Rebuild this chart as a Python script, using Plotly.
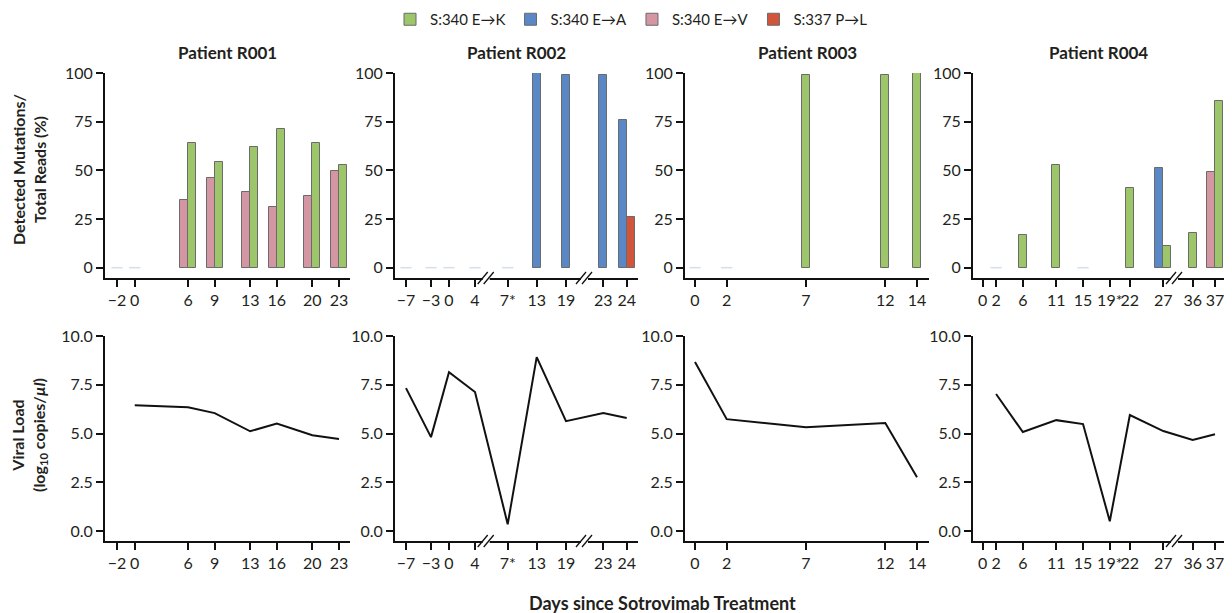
import numpy as np
import plotly.graph_objects as go

W, H = 1232, 613          # window size
OFF = 8                   # page body margin offset
FW, FH = W - OFF, H - OFF  # figure size

# ---------------- data ----------------
SERIES = ["EK", "EA", "EV", "PL"]
SERIES_NAME = {"EK": "S:340 E\u2192K", "EA": "S:340 E\u2192A",
               "EV": "S:340 E\u2192V", "PL": "S:337 P\u2192L"}

# Patient R001
r001_days = [-2, 0, 6, 9, 13, 16, 20, 23]
r001_labels = ["\u22122", "0", "6", "9", "13", "16", "20", "23"]
r001_EK = [None, None, 64, 54.5, 62, 71, 64, 52.5]
r001_EV = [None, None, 35, 46, 39, 31, 37, 49.5]
r001_nd = [-2, 0]
r001_load_days = [0, 6, 9, 13, 16, 20, 23]
r001_load = [6.45, 6.35, 6.05, 5.12, 5.52, 4.92, 4.72]

# Patient R002
r002_days = [-7, -3, 0, 4, 7, 13, 19, 23, 24]
r002_labels = ["\u22127", "\u22123", "0", "4", "7*", "13", "19", "23", "24"]
r002_EA = [None, None, None, None, None, 100, 99, 99, 76]
r002_PL = [None, None, None, None, None, None, None, None, 26]
r002_nd = [-7, -3, 0, 4, 7]
r002_load_days = [-7, -3, 0, 4, 7, 13, 19, 23, 24]
r002_load = [7.33, 4.82, 8.15, 7.13, 0.36, 8.92, 5.64, 6.05, 5.8]

# Patient R003
r003_days = [0, 2, 7, 12, 14]
r003_labels = ["0", "2", "7", "12", "14"]
r003_EK = [None, None, 99, 99, 100]
r003_nd = [0, 2]
r003_load_days = [0, 2, 7, 12, 14]
r003_load = [8.67, 5.74, 5.33, 5.54, 2.77]

# Patient R004
r004_days = [0, 2, 6, 11, 15, 19, 22, 27, 36, 37]
r004_labels = ["0", "2", "6", "11", "15", "19*", "22", "27", "36", "37"]
r004_EK = [None, None, 17, 53, None, None, 41, 11, 18, 85.5]
r004_EA = [None, None, None, None, None, None, None, 51, None, None]
r004_EV = [None, None, None, None, None, None, None, None, None, 49]
r004_nd = [2, 15]
r004_load_days = [2, 6, 11, 15, 19, 22, 27, 36, 37]
r004_load = [7.03, 5.08, 5.69, 5.49, 0.51, 5.95, 5.13, 4.67, 4.97]

# ---------------- layout / scales ----------------
COLORS = {"EK": "#9dc66b", "EA": "#5a87c6", "EV": "#d596a3", "PL": "#d0553a"}
FONT = "Lato, 'Open Sans', sans-serif"
TXT = "#231f20"

panels = [
    dict(title="Patient R001", px=(105, 350), days=r001_days, labels=r001_labels,
         bars={"EK": r001_EK, "EV": r001_EV}, nd=r001_nd,
         ld=r001_load_days, lv=r001_load,
         scale=([-2, 23], [12, 234]), breaks=[]),
    dict(title="Patient R002", px=(395, 638), days=r002_days, labels=r002_labels,
         bars={"EA": r002_EA, "PL": r002_PL}, nd=r002_nd,
         ld=r002_load_days, lv=r002_load,
         scale=(r002_days, [11, 36, 54, 80, 112.7, 141.7, 171, 208.3, 231.7]),
         breaks=[91.7, 190]),
    dict(title="Patient R003", px=(685, 929), days=r003_days, labels=r003_labels,
         bars={"EK": r003_EK}, nd=r003_nd,
         ld=r003_load_days, lv=r003_load,
         scale=([0, 14], [10, 232]), breaks=[]),
    dict(title="Patient R004", px=(973, 1224), days=r004_days, labels=r004_labels,
         bars={"EK": r004_EK, "EA": r004_EA, "EV": r004_EV}, nd=r004_nd,
         ld=r004_load_days, lv=r004_load,
         scale=([0, 27, 36, 37], [9.7, 190.3, 219.7, 242]), breaks=[202]),
]

TOP_PX = (73, 278)     # top row: y pixel top/bottom (window coords)
BOT_PX = (336, 541)
BAR_W = 8


def px2x(p):
    return (p - OFF) / FW


def px2y(p):
    return 1 - (p - OFF) / FH


def ydom(px):
    return [px2y(px[1]), px2y(px[0])]


fig = go.Figure()

# legend entries (in order)
for s in SERIES:
    fig.add_trace(go.Bar(x=[None], y=[None], name=SERIES_NAME[s],
                         marker=dict(color=COLORS[s], line=dict(color="#6b6b6b", width=1)),
                         xaxis="x", yaxis="y", showlegend=True))

axis_common = dict(showline=True, linecolor="#111", linewidth=2, ticks="outside",
                   tickcolor="#111", tickwidth=2, ticklen=7, showgrid=False, zeroline=False,
                   automargin=False, tickangle=0,
                   tickfont=dict(family=FONT, size=16, color=TXT))

layout = {}
shapes = []
annotations = []

for i, p in enumerate(panels):
    wpx = p["px"][1] - p["px"][0]
    sd, sp = p["scale"]

    def scale(d, sd=sd, sp=sp):
        return float(np.interp(d, sd, sp))

    xdom = [px2x(p["px"][0]), px2x(p["px"][1])]
    tickvals = [scale(d) for d in p["days"]]
    xt, xb = i + 1, i + 5
    xa_top = "x" if xt == 1 else f"x{xt}"
    ya_top = "y" if xt == 1 else f"y{xt}"
    xa_bot, ya_bot = f"x{xb}", f"y{xb}"

    for idx, (xn, yn, dom) in enumerate([(xt, xt, TOP_PX), (xb, xb, BOT_PX)]):
        kx = "xaxis" if xn == 1 else f"xaxis{xn}"
        ky = "yaxis" if yn == 1 else f"yaxis{yn}"
        layout[kx] = dict(axis_common, domain=xdom, range=[0, wpx],
                          anchor=("y" if yn == 1 else f"y{yn}"),
                          tickmode="array", tickvals=tickvals, ticktext=p["labels"])
        if idx == 0:
            layout[ky] = dict(axis_common, domain=ydom(dom), range=[-5.3, 100],
                              anchor=("x" if xn == 1 else f"x{xn}"),
                              tickmode="array", tickvals=[0, 25, 50, 75, 100])
        else:
            layout[ky] = dict(axis_common, domain=ydom(dom), range=[-0.5, 10],
                              anchor=f"x{xn}", tickmode="array",
                              tickvals=[0, 2.5, 5, 7.5, 10],
                              ticktext=["0.0", "2.5", "5.0", "7.5", "10.0"])

    # bars
    present = {}
    for s, vals in p["bars"].items():
        for d, v in zip(p["days"], vals):
            if v is not None:
                present.setdefault(d, []).append(s)
    for s in SERIES:
        if s not in p["bars"]:
            continue
        xs, ys, offs = [], [], []
        for d, v in zip(p["days"], p["bars"][s]):
            if v is None:
                continue
            group = sorted(present[d], key=lambda t: ["EA", "EV", "EK", "PL"].index(t))
            n = len(group)
            k = group.index(s)
            xs.append(scale(d))
            ys.append(v)
            offs.append(-n * BAR_W / 2 + k * BAR_W)
        fig.add_trace(go.Bar(x=xs, y=ys, width=BAR_W, offset=offs,
                             marker=dict(color=COLORS[s], line=dict(color="#6b6b6b", width=1)),
                             xaxis=xa_top, yaxis=ya_top, showlegend=False,
                             name=SERIES_NAME[s]))
    # not-detected dashes
    fig.add_trace(go.Scatter(x=[scale(d) for d in p["nd"]], y=[0] * len(p["nd"]),
                             mode="markers",
                             marker=dict(symbol="line-ew", size=8,
                                         line=dict(color="#d4dfeb", width=1.5)),
                             xaxis=xa_top, yaxis=ya_top, showlegend=False,
                             hoverinfo="skip"))
    # viral load
    fig.add_trace(go.Scatter(x=[scale(d) for d in p["ld"]], y=p["lv"], mode="lines",
                             line=dict(color="#111", width=2),
                             xaxis=xa_bot, yaxis=ya_bot, showlegend=False))

    # panel title
    annotations.append(dict(text=f"<b>{p['title']}</b>", xref="paper", yref="paper",
                            x=px2x((p["px"][0] + p["px"][1]) / 2), y=px2y(52),
                            xanchor="center", yanchor="middle",
                            showarrow=False, font=dict(family=FONT, size=17, color=TXT)))

    # axis breaks
    for bpx in p["breaks"]:
        xc = p["px"][0] + bpx
        for dom in (TOP_PX, BOT_PX):
            yc = dom[1]
            shapes.append(dict(type="rect", xref="paper", yref="paper",
                               x0=px2x(xc - 4), x1=px2x(xc + 3),
                               y0=px2y(yc + 2), y1=px2y(yc - 2),
                               fillcolor="white", line=dict(width=0), layer="above"))
            for dx in (-4, 2):
                shapes.append(dict(type="line", xref="paper", yref="paper",
                                   x0=px2x(xc + dx - 5), y0=px2y(yc + 6),
                                   x1=px2x(xc + dx + 5), y1=px2y(yc - 6),
                                   line=dict(color="#111", width=1.3), layer="above"))

# axis titles
annotations.append(dict(text="<b>Detected Mutations/<br>Total Reads (%)</b>",
                        xref="paper", yref="paper", x=px2x(29), y=px2y(170),
                        xanchor="center", yanchor="middle",
                        textangle=-90, showarrow=False,
                        font=dict(family=FONT, size=16, color=TXT)))
annotations.append(dict(text="<b>Viral Load<br>(log<sub>10</sub> copies/<i>\u00b5l</i>)</b>",
                        xref="paper", yref="paper", x=px2x(29), y=px2y(435),
                        xanchor="center", yanchor="middle",
                        textangle=-90, showarrow=False,
                        font=dict(family=FONT, size=16, color=TXT)))
annotations.append(dict(text="<b>Days since Sotrovimab Treatment</b>",
                        xref="paper", yref="paper", x=px2x(662), y=px2y(603),
                        xanchor="center", yanchor="middle",
                        showarrow=False, font=dict(family=FONT, size=18, color=TXT)))

fig.update_layout(**layout)
fig.update_layout(
    width=FW, height=FH, margin=dict(l=0, r=0, t=0, b=0, autoexpand=False),
    plot_bgcolor="white", paper_bgcolor="white",
    barmode="overlay", bargap=0,
    shapes=shapes, annotations=annotations,
    showlegend=True,
    legend=dict(orientation="h", x=px2x(390), y=px2y(3), xanchor="left", yanchor="top",
                font=dict(family=FONT, size=15, color=TXT), bgcolor="rgba(0,0,0,0)",
                traceorder="normal"),
)

fig.write_html("out.html")
